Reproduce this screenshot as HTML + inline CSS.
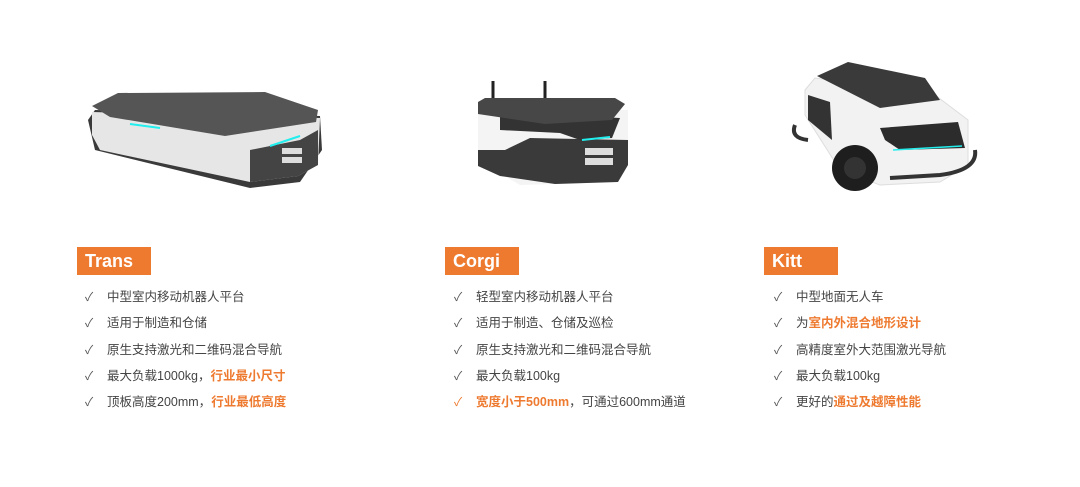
<!DOCTYPE html><html><head><meta charset="utf-8"><style>
body{margin:0;width:1080px;height:487px;background:#fff;position:relative;overflow:hidden;font-family:"Liberation Sans","Noto Sans CJK SC",sans-serif;}
.lab{position:absolute;top:247px;width:74px;height:28px;background:#ee7a30;color:#fff;font-weight:bold;font-size:18px;line-height:28px;text-indent:8px;}
ul{position:absolute;top:284px;margin:0;padding:0;list-style:none;font-size:12.5px;color:#444;}
li{height:26.3px;line-height:26px;white-space:nowrap;}
li:before{content:"✓";display:inline-block;width:22px;margin-left:-22px;color:#555;font-size:12px;}
li.o:before{color:#ee7a30}
b{color:#ee7a30;}
</style></head><body>
<svg width="1080" height="240" style="position:absolute;left:0;top:0">
<!-- Trans -->
<polygon points="88,120 95,110 320,116 322,150 300,182 250,188 95,150" fill="#3a3a3a"/>
<polygon points="92,112 320,118 318,165 298,176 250,182 100,150 92,135" fill="#e6e6e6"/>
<polygon points="250,150 300,140 318,130 318,165 298,176 250,182" fill="#444"/>
<rect x="282" y="148" width="20" height="6" fill="#ddd"/><rect x="282" y="157" width="20" height="6" fill="#ddd"/>
<polygon points="92,106 118,93 265,92 318,110 316,122 225,136 110,117" fill="#555"/>
<line x1="130" y1="124" x2="160" y2="128" stroke="#2ee" stroke-width="2"/>
<line x1="270" y1="146" x2="300" y2="136" stroke="#2ee" stroke-width="2"/>
<!-- Corgi -->
<line x1="493" y1="81" x2="493" y2="102" stroke="#222" stroke-width="3"/>
<line x1="545" y1="81" x2="545" y2="101" stroke="#222" stroke-width="3"/>
<polygon points="478,108 628,110 628,165 618,182 520,185 478,160" fill="#f4f4f4"/>
<polygon points="478,150 505,150 530,138 628,140 628,165 618,182 555,184 500,176 478,166" fill="#3a3a3a"/>
<polygon points="500,112 620,118 612,138 580,140 560,133 500,130" fill="#333"/>
<rect x="585" y="148" width="28" height="7" fill="#ddd"/><rect x="585" y="158" width="28" height="7" fill="#ddd"/>
<polygon points="478,102 485,98 615,98 625,104 612,120 545,124 478,114" fill="#474747"/>
<line x1="582" y1="140" x2="610" y2="137" stroke="#2ee" stroke-width="2"/>
<!-- Kitt -->
<polygon points="805,90 815,78 935,95 968,120 968,165 940,182 880,185 840,170 805,115" fill="#f2f2f2" stroke="#ddd"/>
<polygon points="808,95 830,102 832,140 808,120" fill="#333"/>
<polygon points="880,128 958,122 965,148 900,150 885,140" fill="#2c2c2c"/>
<line x1="893" y1="150" x2="962" y2="146" stroke="#2ee" stroke-width="1.5"/>
<polygon points="817,76 848,62 925,78 940,100 880,108" fill="#3a3a3a"/>
<circle cx="855" cy="168" r="23" fill="#1e1e1e"/><circle cx="855" cy="168" r="11" fill="#333"/>
<path d="M795,125 Q790,138 808,140" stroke="#333" stroke-width="4" fill="none"/>
<path d="M975,150 Q978,170 940,175 L890,178" stroke="#333" stroke-width="4" fill="none"/>
</svg>
<div class="lab" style="left:77px">Trans</div>
<div class="lab" style="left:445px">Corgi</div>
<div class="lab" style="left:764px">Kitt</div>
<ul style="left:107px"><li>中型室内移动机器人平台</li><li>适用于制造和仓储</li><li>原生支持激光和二维码混合导航</li><li>最大负载1000kg，<b>行业最小尺寸</b></li><li>顶板高度200mm，<b>行业最低高度</b></li></ul>
<ul style="left:476px"><li>轻型室内移动机器人平台</li><li>适用于制造、仓储及巡检</li><li>原生支持激光和二维码混合导航</li><li>最大负载100kg</li><li class="o"><b>宽度小于500mm</b>，可通过600mm通道</li></ul>
<ul style="left:796px"><li>中型地面无人车</li><li>为<b>室内外混合地形设计</b></li><li>高精度室外大范围激光导航</li><li>最大负载100kg</li><li>更好的<b>通过及越障性能</b></li></ul>
</body></html>
